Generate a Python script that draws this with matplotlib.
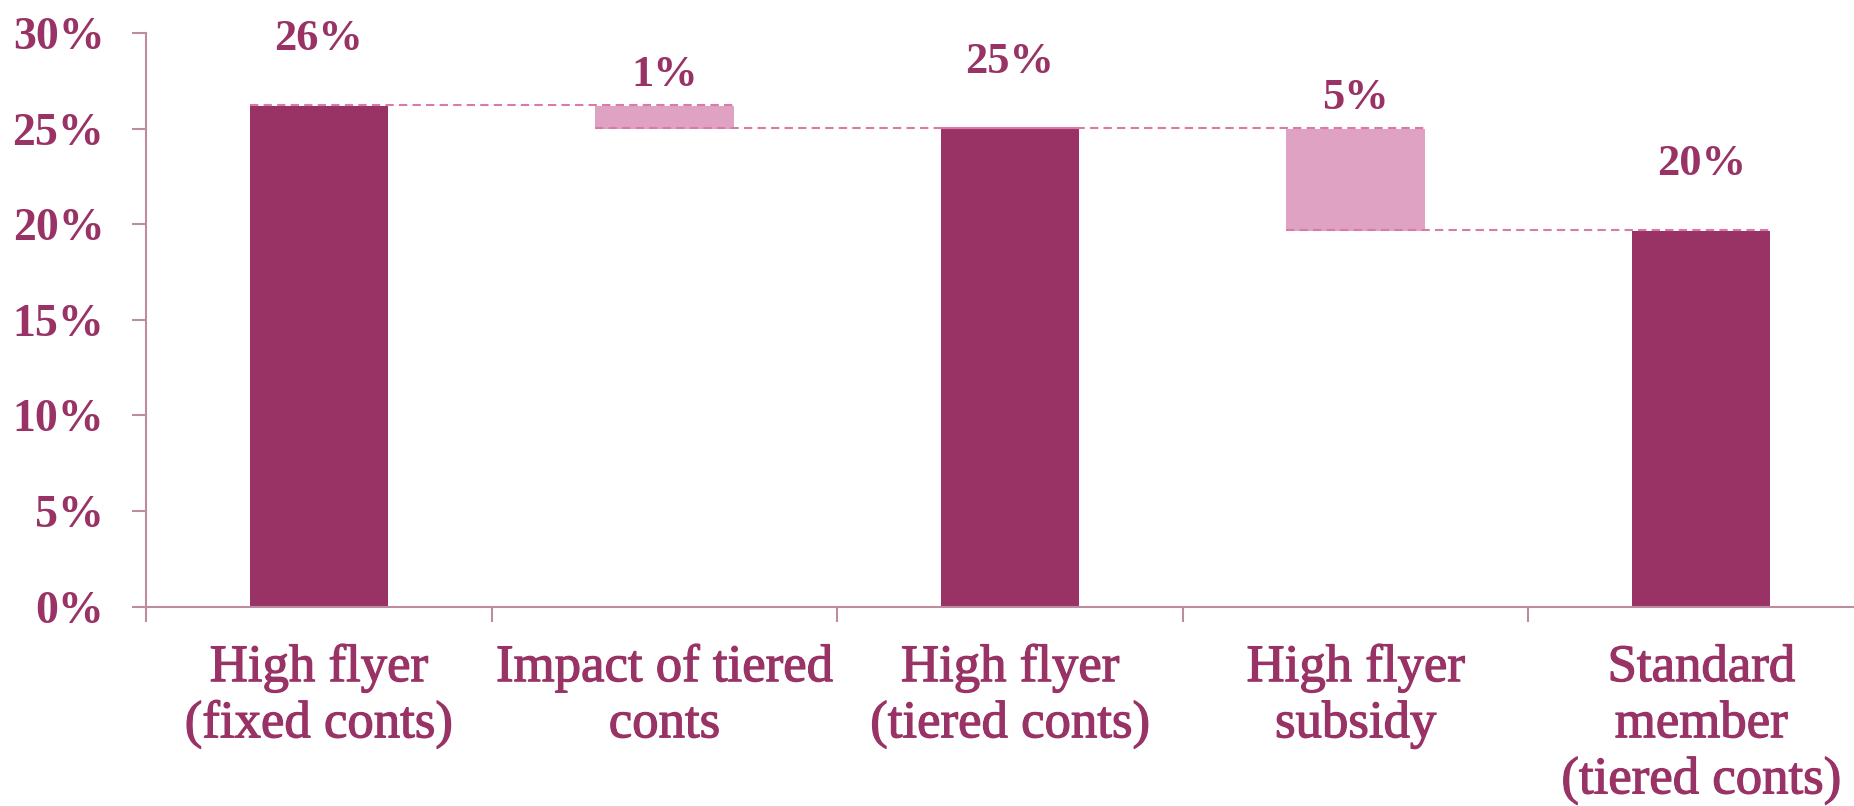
import matplotlib
matplotlib.use("Agg")
import matplotlib.pyplot as plt
import matplotlib.patheffects as pe

categories = ["High flyer\n(fixed conts)", "Impact of tiered\nconts", "High flyer\n(tiered conts)",
              "High flyer\nsubsidy", "Standard\nmember\n(tiered conts)"]
values = [26.2, -1.2, 25.0, -5.35, 19.65]
kinds = ["total", "delta", "total", "delta", "total"]
yticks = [0, 5, 10, 15, 20, 25, 30]

DARK = "#993366"
LIGHT = "#E0A2C2"
TEXT = "#993366"
SPINE = "#BD8C9E"
DASH = "#D97AAA"

fig = plt.figure(figsize=(18.54, 8.06), dpi=100)
left = 146 / 1854
ax = fig.add_axes([left, (806 - 606.6) / 806, 1 - left, 573.5 / 806])

xs = list(range(len(categories)))
width = 0.4
level = 0.0
bottoms, heights, tops = [], [], []
for v, k in zip(values, kinds):
    if k == "total":
        bottoms.append(0.0)
        heights.append(v)
        level = v
    else:
        bottoms.append(level + v)
        heights.append(-v)
        level = level + v
    tops.append(bottoms[-1] + heights[-1])

colors = [DARK if k == "total" else LIGHT for k in kinds]
ax.bar(xs, heights, bottom=bottoms, width=width, color=colors, zorder=2)

# connector lines
for i in range(len(xs) - 1):
    lvl = tops[i] if kinds[i] == "total" else bottoms[i]
    ax.plot([xs[i] - width / 2, xs[i + 1] + width / 2], [lvl + 0.06, lvl + 0.06],
            color=DASH, lw=1.5, linestyle=(0, (4, 2.5)), zorder=3)

# value labels
for x, v, k, t in zip(xs, values, kinds, tops):
    off = 48 if k == "total" else 22
    ax.annotate(f"{abs(v):.0f}%", (x, t), xytext=(0, off), textcoords="offset points",
                ha="center", va="center", fontsize=32, fontweight="bold",
                family="Liberation Serif", color=TEXT)

ax.set_ylim(0, 30)
ax.set_xlim(-0.5, -0.5 + (1854 - 146) / 345.6)
ax.set_yticks(yticks)
ax.set_yticklabels([f"{t}%" for t in yticks], fontsize=33, fontweight="bold",
                   family="Liberation Serif", color=TEXT)
ax.tick_params(axis="y", length=10, width=1.5, color=SPINE, pad=20)

ax.set_xticks([x - 0.5 for x in xs])
ax.set_xticklabels([])
ax.tick_params(axis="x", which="major", length=11, width=1.5, color=SPINE)
ax.set_xticks(xs, minor=True)
labels = ax.set_xticklabels(categories, minor=True, fontsize=38, family="Liberation Serif",
                            color=TEXT, linespacing=1.22, va="top")
for lb in labels:
    lb.set_path_effects([pe.withStroke(linewidth=0.9, foreground=TEXT)])
ax.tick_params(axis="x", which="minor", length=0, pad=27)

for s in ["top", "right"]:
    ax.spines[s].set_visible(False)
for s in ["left", "bottom"]:
    ax.spines[s].set_color(SPINE)
    ax.spines[s].set_linewidth(1.5)

fig.savefig("out.png", dpi=100)
